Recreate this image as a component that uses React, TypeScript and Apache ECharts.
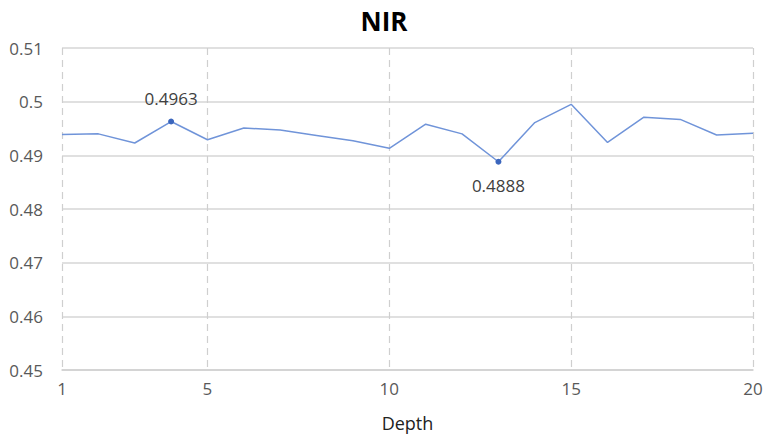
import React, { useEffect, useRef } from "react";
import * as echarts from "echarts";

const depths = ["1", "2", "3", "4", "5", "6", "7", "8", "9", "10", "11", "12", "13", "14", "15", "16", "17", "18", "19", "20"];
const nirValues = [0.4939, 0.494, 0.4923, 0.4963, 0.4929, 0.4951, 0.4947, 0.4937, 0.4927, 0.4913, 0.4958, 0.494, 0.4888, 0.4961, 0.4995, 0.4924, 0.4971, 0.4967, 0.4938, 0.4941];
const labelledIndex = [3, 12];
const labelPositions = ["top", "bottom"];
const shownXLabels = ["1", "5", "10", "15", "20"];

const FONT = "'Open Sans', 'Noto Sans', sans-serif";

export default function App() {
  const ref = useRef<HTMLDivElement>(null);
  useEffect(() => {
    document.body.style.margin = "0";
    if (!ref.current) return;
    const chart = echarts.init(ref.current, null, { renderer: "svg" });
    const showIdx = (i: number) => shownXLabels.includes(depths[i]);
    const data = nirValues.map((v, i) => {
      const k = labelledIndex.indexOf(i);
      if (k < 0) return v;
      return {
        value: v,
        symbol: "circle",
        symbolSize: 6,
        itemStyle: { color: "#3b66bd" },
        label: {
          show: true,
          position: labelPositions[k],
          distance: 12,
          formatter: (p: any) => p.value.toFixed(4),
          color: "#404040",
          fontSize: 17,
          fontFamily: FONT,
        },
      };
    });
    chart.setOption({
      animation: false,
      title: {
        text: "NIR",
        left: "center",
        top: 3,
        textStyle: { fontFamily: FONT, fontWeight: "bold", fontSize: 26, color: "#000" },
      },
      grid: { left: 62, right: 15, top: 48, bottom: 72 },
      xAxis: {
        type: "category",
        data: depths,
        boundaryGap: false,
        name: "Depth",
        nameLocation: "middle",
        nameGap: 44,
        nameTextStyle: { fontFamily: FONT, fontSize: 18, color: "#222" },
        axisLine: { show: true, lineStyle: { color: "#d0d0d0", width: 1.5 } },
        axisTick: { show: false },
        axisLabel: {
          interval: (i: number) => showIdx(i),
          color: "#595959",
          fontSize: 17,
          fontFamily: FONT,
          margin: 10,
        },
        splitLine: {
          show: true,
          interval: (i: number) => showIdx(i),
          lineStyle: { color: "#cfcfcf", type: [7, 5], width: 1.2 },
        },
      },
      yAxis: {
        type: "value",
        min: 0.45,
        max: 0.51,
        interval: 0.01,
        axisLine: { show: false },
        axisTick: { show: false },
        axisLabel: {
          color: "#595959",
          fontSize: 17,
          fontFamily: FONT,
          margin: 19,
          formatter: (v: number) => String(Math.round(v * 100) / 100),
        },
        splitLine: { show: true, lineStyle: { color: "#d6d6d6", width: 1.5 } },
      },
      series: [
        {
          type: "line",
          data,
          symbol: "none",
          showSymbol: true,
          lineStyle: { color: "#7094d9", width: 1.5 },
          itemStyle: { color: "#7094d9" },
        },
      ],
    });
    return () => chart.dispose();
  }, []);
  return <div ref={ref} style={{ width: 768, height: 442 }} />;
}
